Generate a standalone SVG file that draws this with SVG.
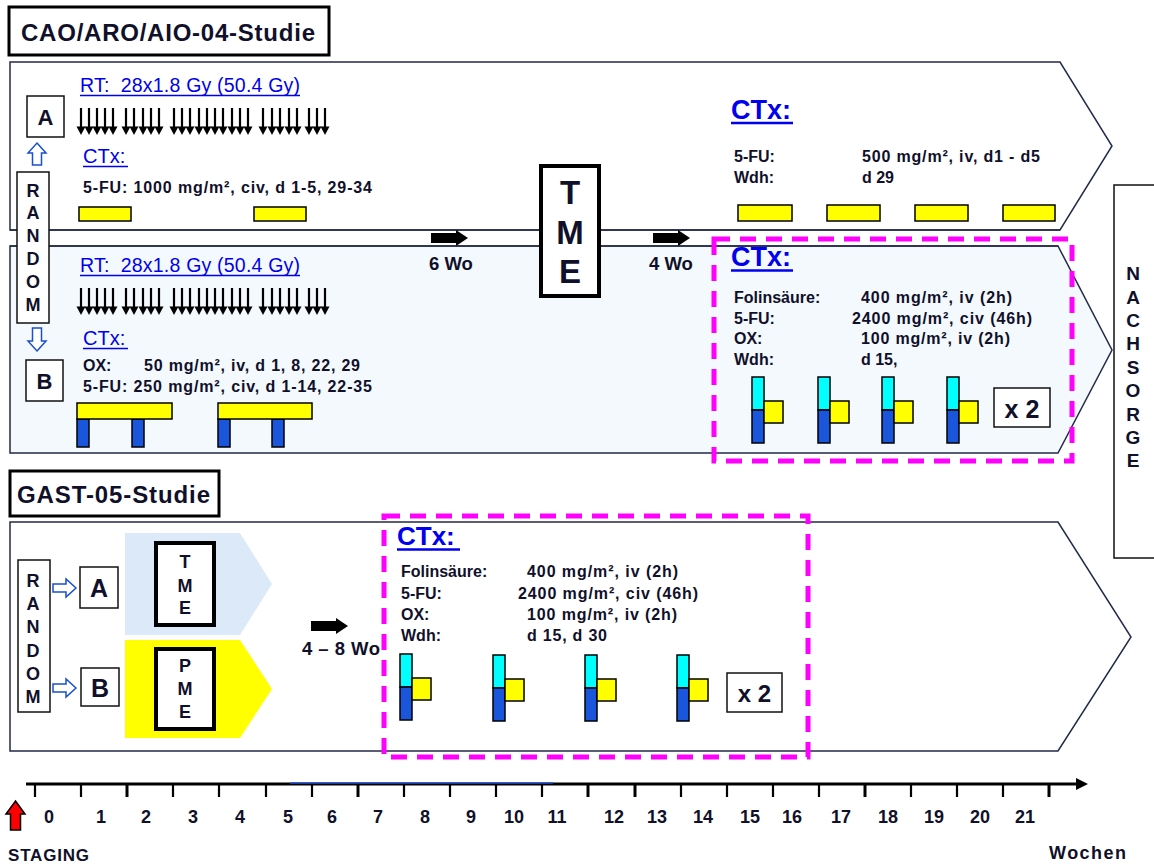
<svg xmlns="http://www.w3.org/2000/svg" width="1154" height="864" viewBox="0 0 1154 864">
<style>
text{font-family:"Liberation Sans",Arial,sans-serif;fill:#10102a}
.b{font-weight:bold}
.t{font-size:16px;font-weight:bold}
.blue{fill:#0000ee}
.panel{stroke:#232a4a;stroke-width:1.5}
.box{fill:#fff;stroke:#111;stroke-width:1.5}
.thick{fill:#fff;stroke:#000;stroke-width:4}
.yb{fill:#ffff00;stroke:#000;stroke-width:1.5}
.bl{fill:#1a56db;stroke:#000;stroke-width:1.5}
.cy{fill:#00ffff;stroke:#000;stroke-width:1.5}
.ul{stroke:#0000ee}
.mag{fill:none;stroke:#ff00ff;stroke-width:5;stroke-dasharray:16 10}
.hollow{fill:#fff;stroke:#1a4fd0;stroke-width:1.5}
.ctr{text-anchor:middle}
</style>
<defs>
<g id="rtArrow"><line x1="0" y1="0" x2="0" y2="20" stroke="#000" stroke-width="2.2"/><polygon points="-4.5,18.5 4.5,18.5 0,27" fill="#000"/></g>
<g id="fatArrow"><polygon points="0,-5 25,-5 25,-8 37,0 25,8 25,5 0,5" fill="#000"/></g>
<g id="folfoxA"><rect class="cy" x="0" y="0" width="12" height="33"/><rect class="bl" x="0" y="33" width="12" height="33"/><rect class="yb" x="12" y="24" width="19" height="22"/></g>
</defs>

<!-- Title boxes -->
<g id="title-cao">
<rect x="9" y="7" width="320" height="48" fill="#fff" stroke="#000" stroke-width="3"/>
<text x="21" y="41" class="b" font-size="24" textLength="294">CAO/ARO/AIO-04-Studie</text>
</g>

<!-- Arm A panel -->
<g id="panel-a">
<polygon class="panel" fill="#fff" points="10,62 1060,62 1112,146 1060,230 10,230"/>
</g>
<!-- Arm B panel -->
<g id="panel-b">
<polygon class="panel" fill="#f4f9fd" points="10,246 1058,246 1112,350 1058,453 10,453"/>
</g>

<!-- Connectors (upper study) -->
<g id="connectors">
<line x1="10" y1="230" x2="1060" y2="230" stroke="#232a4a" stroke-width="1.5"/>
<line x1="10" y1="246" x2="1058" y2="246" stroke="#232a4a" stroke-width="1.5"/>
<use href="#fatArrow" x="431" y="238"/>
<use href="#fatArrow" x="653" y="238"/>
<polygon class="hollow" points="37,143 46,153 41.5,153 41.5,165 32.5,165 32.5,153 28,153"/>
<polygon class="hollow" points="37,351 46,341 41.5,341 41.5,328 32.5,328 32.5,341 28,341"/>
</g>
<g id="wo-labels">
<text x="451" y="270" class="b ctr" font-size="18.5">6 Wo</text>
<text x="671" y="270" class="b ctr" font-size="18.5">4 Wo</text>
</g>

<!-- Arm A content -->
<g id="arm-a-rt">
<text x="80" y="92" font-size="19.5" class="blue" textLength="220" xml:space="preserve">RT:  28x1.8 Gy (50.4 Gy)</text>
<line class="ul" x1="80" y1="95.5" x2="300" y2="95.5" stroke-width="1.5"/>
<g transform="translate(0,108)">
<use href="#rtArrow" x="81"/><use href="#rtArrow" x="89"/><use href="#rtArrow" x="97"/><use href="#rtArrow" x="105"/><use href="#rtArrow" x="113"/>
<use href="#rtArrow" x="126"/><use href="#rtArrow" x="134"/><use href="#rtArrow" x="143"/><use href="#rtArrow" x="151"/><use href="#rtArrow" x="159"/>
<use href="#rtArrow" x="174"/><use href="#rtArrow" x="182"/><use href="#rtArrow" x="190"/><use href="#rtArrow" x="199"/><use href="#rtArrow" x="207"/>
<use href="#rtArrow" x="215"/><use href="#rtArrow" x="223"/><use href="#rtArrow" x="232"/><use href="#rtArrow" x="240"/><use href="#rtArrow" x="248"/>
<use href="#rtArrow" x="263"/><use href="#rtArrow" x="272"/><use href="#rtArrow" x="280"/><use href="#rtArrow" x="289"/><use href="#rtArrow" x="297"/>
<use href="#rtArrow" x="309"/><use href="#rtArrow" x="317"/><use href="#rtArrow" x="325"/>
</g>
</g>
<g id="arm-a-ctx">
<text x="83" y="163" font-size="20" class="blue">CTx:</text>
<line class="ul" x1="83" y1="166.5" x2="128" y2="166.5" stroke-width="1.5"/>
<text x="83" y="193" class="t" textLength="289">5-FU: 1000 mg/m², civ, d 1-5, 29-34</text>
<rect class="yb" x="79" y="207" width="52" height="14"/>
<rect class="yb" x="254" y="207" width="52" height="14"/>
</g>

<!-- Arm B content -->
<g id="arm-b-rt">
<text x="80" y="272" font-size="19.5" class="blue" textLength="220" xml:space="preserve">RT:  28x1.8 Gy (50.4 Gy)</text>
<line class="ul" x1="80" y1="275.5" x2="300" y2="275.5" stroke-width="1.5"/>
<g transform="translate(0,288)">
<use href="#rtArrow" x="81"/><use href="#rtArrow" x="89"/><use href="#rtArrow" x="97"/><use href="#rtArrow" x="105"/><use href="#rtArrow" x="113"/>
<use href="#rtArrow" x="126"/><use href="#rtArrow" x="134"/><use href="#rtArrow" x="143"/><use href="#rtArrow" x="151"/><use href="#rtArrow" x="159"/>
<use href="#rtArrow" x="174"/><use href="#rtArrow" x="182"/><use href="#rtArrow" x="190"/><use href="#rtArrow" x="199"/><use href="#rtArrow" x="207"/>
<use href="#rtArrow" x="215"/><use href="#rtArrow" x="223"/><use href="#rtArrow" x="232"/><use href="#rtArrow" x="240"/><use href="#rtArrow" x="248"/>
<use href="#rtArrow" x="263"/><use href="#rtArrow" x="272"/><use href="#rtArrow" x="280"/><use href="#rtArrow" x="289"/><use href="#rtArrow" x="297"/>
<use href="#rtArrow" x="309"/><use href="#rtArrow" x="317"/><use href="#rtArrow" x="325"/>
</g>
</g>
<g id="arm-b-ctx">
<text x="83" y="345" font-size="20" class="blue">CTx:</text>
<line class="ul" x1="83" y1="348.5" x2="128" y2="348.5" stroke-width="1.5"/>
<text x="83" y="371" class="t">OX:</text>
<text x="144" y="371" class="t" textLength="216">50 mg/m², iv, d 1, 8, 22, 29</text>
<text x="83" y="392" class="t" textLength="289">5-FU: 250 mg/m², civ, d 1-14, 22-35</text>
<rect class="bl" x="77" y="419" width="12" height="28"/>
<rect class="bl" x="132" y="419" width="12" height="28"/>
<rect class="yb" x="77" y="403" width="95" height="16"/>
<rect class="bl" x="218" y="419" width="12" height="28"/>
<rect class="bl" x="272" y="419" width="12" height="28"/>
<rect class="yb" x="218" y="403" width="94" height="16"/>
</g>

<!-- Random top -->
<g id="random-top">
<rect class="box" x="17" y="172" width="32" height="151"/>
<text x="33" y="197" class="ctr b" font-size="18">R</text><text x="33" y="219" class="ctr b" font-size="18">A</text><text x="33" y="242" class="ctr b" font-size="18">N</text>
<text x="33" y="265" class="ctr b" font-size="18">D</text><text x="33" y="288" class="ctr b" font-size="18">O</text><text x="33" y="311" class="ctr b" font-size="18">M</text>
</g>
<g id="arm-a-label"><rect class="box" x="27" y="96" width="37" height="41"/><text x="45.5" y="125" class="b ctr" font-size="22">A</text></g>
<g id="arm-b-label"><rect class="box" x="26" y="360" width="37" height="41"/><text x="44.5" y="389" class="b ctr" font-size="22">B</text></g>

<!-- TME top -->
<g id="tme-top">
<rect class="thick" x="541" y="166" width="58" height="130"/>
<text x="570" y="204" class="b ctr" font-size="33">T</text>
<text x="570" y="244" class="b ctr" font-size="33">M</text>
<text x="570" y="283" class="b ctr" font-size="33">E</text>
</g>

<!-- Adjuvant A -->
<g id="adj-a">
<text x="731" y="119" class="b blue" font-size="27">CTx:</text>
<line class="ul" x1="731" y1="123" x2="793" y2="123" stroke-width="2.5"/>
<text x="734" y="162" class="t">5-FU:</text>
<text x="862" y="162" class="t" textLength="178">500 mg/m², iv, d1 - d5</text>
<text x="734" y="183" class="t">Wdh:</text>
<text x="862" y="183" class="t">d 29</text>
<rect class="yb" x="738" y="205" width="54" height="16"/>
<rect class="yb" x="827" y="205" width="53" height="16"/>
<rect class="yb" x="915" y="205" width="53" height="16"/>
<rect class="yb" x="1003" y="205" width="52" height="16"/>
</g>

<!-- Adjuvant B -->
<g id="adj-b">
<text x="731" y="266" class="b blue" font-size="27">CTx:</text>
<line class="ul" x1="731" y1="270.5" x2="793" y2="270.5" stroke-width="2.5"/>
<text x="734" y="303" class="t">Folinsäure:</text>
<text x="861" y="303" class="t" textLength="151">400 mg/m², iv (2h)</text>
<text x="734" y="324" class="t">5-FU:</text>
<text x="852" y="324" class="t" textLength="180">2400 mg/m², civ (46h)</text>
<text x="734" y="344" class="t">OX:</text>
<text x="861" y="344" class="t" textLength="149">100 mg/m², iv (2h)</text>
<text x="734" y="365" class="t">Wdh:</text>
<text x="861" y="365" class="t">d 15,</text>
<use href="#folfoxA" x="752" y="377"/>
<use href="#folfoxA" x="818" y="377"/>
<use href="#folfoxA" x="882" y="377"/>
<use href="#folfoxA" x="947" y="377"/>
<rect class="box" x="994" y="388" width="56" height="39"/>
<text x="1022" y="418" class="b ctr" font-size="25">x 2</text>
<rect class="mag" x="714" y="239" width="358" height="222"/>
</g>

<!-- Nachsorge -->
<g id="nachsorge">
<rect class="box" x="1114" y="185" width="50" height="373"/>
<text x="1133" y="280" class="b ctr" font-size="19">N</text><text x="1133" y="304" class="b ctr" font-size="19">A</text><text x="1133" y="327" class="b ctr" font-size="19">C</text>
<text x="1133" y="350" class="b ctr" font-size="19">H</text><text x="1133" y="374" class="b ctr" font-size="19">S</text><text x="1133" y="397" class="b ctr" font-size="19">O</text>
<text x="1133" y="421" class="b ctr" font-size="19">R</text><text x="1133" y="444" class="b ctr" font-size="19">G</text><text x="1133" y="467" class="b ctr" font-size="19">E</text>
</g>

<!-- GAST -->
<g id="title-gast">
<rect x="10" y="471" width="209" height="45" fill="#fff" stroke="#000" stroke-width="3"/>
<text x="17" y="503" class="b" font-size="24" textLength="193">GAST-05-Studie</text>
</g>
<g id="panel-gast">
<polygon class="panel" fill="#fff" points="10,522 1058,522 1131,637 1058,751 10,751"/>
</g>
<g id="gast-connectors">
<use href="#fatArrow" x="311" y="626"/>
<polygon class="hollow" points="76,588 66,579 66,584 53,584 53,592 66,592 66,597"/>
<polygon class="hollow" points="76,688 66,679 66,684 53,684 53,692 66,692 66,697"/>
</g>
<g id="gast-wo-label">
<text x="302" y="655" class="b" font-size="18.5" textLength="78">4 – 8 Wo</text>
</g>
<g id="gast-random">
<rect class="box" x="18" y="560" width="32" height="152"/>
<text x="33" y="587" class="b ctr" font-size="18">R</text><text x="33" y="610" class="b ctr" font-size="18">A</text><text x="33" y="633" class="b ctr" font-size="18">N</text>
<text x="33" y="657" class="b ctr" font-size="18">D</text><text x="33" y="680" class="b ctr" font-size="18">O</text><text x="33" y="703" class="b ctr" font-size="18">M</text>
</g>
<g id="gast-a"><rect class="box" x="80" y="567" width="38" height="41"/><text x="99" y="597" class="b ctr" font-size="25">A</text></g>
<g id="gast-b"><rect class="box" x="81" y="668" width="38" height="38"/><text x="100" y="697" class="b ctr" font-size="25">B</text></g>
<g id="gast-tme">
<polygon points="125,533 240,533 272,584 240,635 125,635" fill="#dce9f8"/>
<rect class="thick" x="156" y="543" width="58" height="82"/>
<text x="185" y="568" class="b ctr" font-size="18">T</text>
<text x="185" y="592" class="b ctr" font-size="18">M</text>
<text x="185" y="614" class="b ctr" font-size="18">E</text>
</g>
<g id="gast-pme">
<polygon points="125,640 240,640 272,689 240,738 125,738" fill="#ffff00"/>
<rect class="thick" x="156" y="649" width="58" height="80"/>
<text x="185" y="672" class="b ctr" font-size="18">P</text>
<text x="185" y="695" class="b ctr" font-size="18">M</text>
<text x="185" y="718" class="b ctr" font-size="18">E</text>
</g>
<g id="gast-ctx">
<text x="397" y="545" class="b blue" font-size="26">CTx:</text>
<line class="ul" x1="397" y1="549.5" x2="460" y2="549.5" stroke-width="2.5"/>
<text x="401" y="577" class="t">Folinsäure:</text>
<text x="527" y="577" class="t" textLength="151">400 mg/m², iv (2h)</text>
<text x="401" y="599" class="t">5-FU:</text>
<text x="518" y="599" class="t" textLength="180">2400 mg/m², civ (46h)</text>
<text x="401" y="620" class="t">OX:</text>
<text x="527" y="620" class="t" textLength="150">100 mg/m², iv (2h)</text>
<text x="401" y="641" class="t">Wdh:</text>
<text x="527" y="641" class="t" textLength="80">d 15, d 30</text>
<use href="#folfoxA" x="400" y="654"/>
<use href="#folfoxA" x="493" y="655"/>
<use href="#folfoxA" x="585" y="655"/>
<use href="#folfoxA" x="677" y="655"/>
<rect class="box" x="727" y="673" width="55" height="39"/>
<text x="754.5" y="702" class="b ctr" font-size="24">x 2</text>
<rect class="mag" x="384" y="516" width="424" height="241"/>
</g>

<!-- Timeline -->
<g id="timeline">
<line x1="26" y1="784" x2="1078" y2="784" stroke="#000" stroke-width="3"/>
<line x1="290" y1="783" x2="553" y2="783" stroke="#2050d0" stroke-width="1.5"/>
<polygon points="1076,778 1088,784 1076,790" fill="#000"/>
<g stroke="#000" stroke-width="2.2">
<line x1="35" y1="784" x2="35" y2="797"/><line x1="81" y1="784" x2="81" y2="797"/><line x1="127" y1="784" x2="127" y2="797" stroke-width="3"/>
<line x1="173" y1="784" x2="173" y2="797"/><line x1="219" y1="784" x2="219" y2="797"/><line x1="266" y1="784" x2="266" y2="797"/>
<line x1="312" y1="784" x2="312" y2="797"/><line x1="358" y1="784" x2="358" y2="797" stroke-width="3"/><line x1="404" y1="784" x2="404" y2="797"/>
<line x1="450" y1="784" x2="450" y2="797"/><line x1="496" y1="784" x2="496" y2="797"/><line x1="542" y1="784" x2="542" y2="797"/>
<line x1="588" y1="784" x2="588" y2="797" stroke-width="3"/><line x1="635" y1="784" x2="635" y2="797" stroke-width="3"/><line x1="681" y1="784" x2="681" y2="797"/>
<line x1="727" y1="784" x2="727" y2="797"/><line x1="773" y1="784" x2="773" y2="797"/><line x1="819" y1="784" x2="819" y2="797"/>
<line x1="865" y1="784" x2="865" y2="797" stroke-width="3"/><line x1="911" y1="784" x2="911" y2="797"/><line x1="957" y1="784" x2="957" y2="797"/>
<line x1="1003" y1="784" x2="1003" y2="797"/><line x1="1049" y1="784" x2="1049" y2="797" stroke-width="3"/>
</g>
<text x="49" y="823" class="b ctr" font-size="18">0</text><text x="101" y="823" class="b ctr" font-size="18">1</text><text x="146" y="823" class="b ctr" font-size="18">2</text>
<text x="193" y="823" class="b ctr" font-size="18">3</text><text x="240" y="823" class="b ctr" font-size="18">4</text><text x="288" y="823" class="b ctr" font-size="18">5</text>
<text x="332" y="823" class="b ctr" font-size="18">6</text><text x="378" y="823" class="b ctr" font-size="18">7</text><text x="425" y="823" class="b ctr" font-size="18">8</text>
<text x="471" y="823" class="b ctr" font-size="18">9</text><text x="514" y="823" class="b ctr" font-size="18">10</text><text x="557" y="823" class="b ctr" font-size="18">11</text>
<text x="614" y="823" class="b ctr" font-size="18">12</text><text x="657" y="823" class="b ctr" font-size="18">13</text><text x="703" y="823" class="b ctr" font-size="18">14</text>
<text x="750" y="823" class="b ctr" font-size="18">15</text><text x="792" y="823" class="b ctr" font-size="18">16</text><text x="841" y="823" class="b ctr" font-size="18">17</text>
<text x="888" y="823" class="b ctr" font-size="18">18</text><text x="934" y="823" class="b ctr" font-size="18">19</text><text x="980" y="823" class="b ctr" font-size="18">20</text>
<text x="1025" y="823" class="b ctr" font-size="18">21</text>
<polygon points="15.5,801 25,814 20.5,814 20.5,830 10.5,830 10.5,814 6,814" fill="#ff0000" stroke="#000" stroke-width="1.5"/>
<text x="8" y="861" class="b" font-size="17" textLength="81">STAGING</text>
<text x="1049" y="859" class="b" font-size="18" textLength="77">Wochen</text>
</g>
</svg>
